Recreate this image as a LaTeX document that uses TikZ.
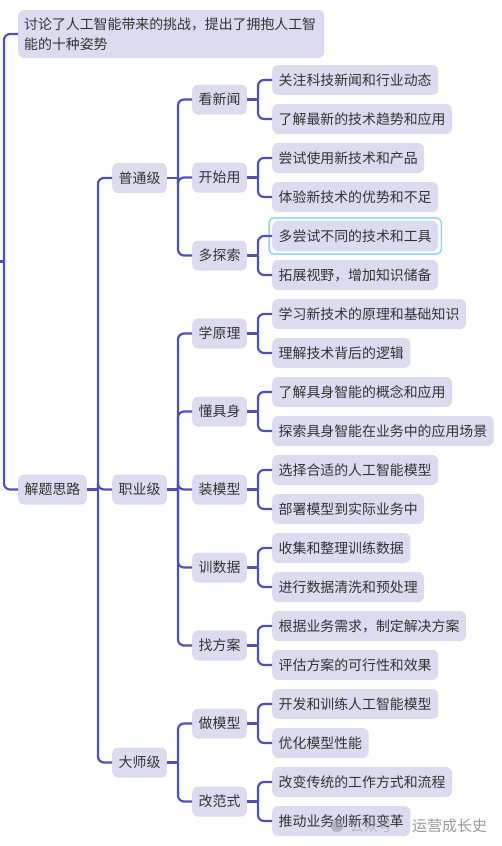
\documentclass[tikz,border=0pt]{standalone}
\usepackage{fontspec}
\newfontfamily\cjk{Noto Sans CJK SC}
\definecolor{edgec}{HTML}{4F4FC4}
\definecolor{nfill}{HTML}{DCDCF0}
\definecolor{ntext}{HTML}{333333}
\definecolor{hlc}{HTML}{8ED6F8}
\definecolor{wmc}{HTML}{9A9A9A}
\newcommand\linkto[3]{\draw[link] (#1.east) -- (#1.east -| #3);\draw[link] (#1.east -| #3) |- (#2.west);}
\begin{document}
\begin{tikzpicture}[x=1pt,y=-1pt,
  box/.style={fill=nfill, rounded corners=6pt, anchor=west, inner xsep=6.5pt, inner ysep=0pt,
    minimum height=30pt, text=ntext, font=\cjk\fontsize{13.9pt}{20pt}\selectfont},
  link/.style={draw=edgec, line width=2.2pt, rounded corners=6pt}]
\useasboundingbox (0,0) rectangle (502,846);
% bus coordinates
\coordinate (bus0) at (4,0);
\coordinate (bus1) at (98,0);
\coordinate (bus2) at (178,0);
\coordinate (bus3) at (258,0);
\coordinate (root) at (-2,261.5);
% level 1
\node[box, text width=294pt, align=left, minimum height=48pt, inner xsep=6pt] (top) at (18,34) {讨论了人工智能带来的挑战，提出了拥抱人工智\\能的十种姿势};
\node[box] (jt) at (18,489.5) {解题思路};
% level 2
\node[box] (pt) at (112,178) {普通级};
\node[box] (zy) at (112,489.5) {职业级};
\node[box] (ds) at (112,762.5) {大师级};
% level 3
\node[box] (m1) at (192,99.5) {看新闻};
\node[box] (m2) at (192,177.5) {开始用};
\node[box] (m3) at (192,255.5) {多探索};
\node[box] (m4) at (192,333.5) {学原理};
\node[box] (m5) at (192,411.5) {懂具身};
\node[box] (m6) at (192,489.5) {装模型};
\node[box] (m7) at (192,567.5) {训数据};
\node[box] (m8) at (192,645.5) {找方案};
\node[box] (m9) at (192,723.5) {做模型};
\node[box] (m10) at (192,801.5) {改范式};
% leaves
\node[box] (l1) at (272,80) {关注科技新闻和行业动态};
\node[box] (l2) at (272,119) {了解最新的技术趋势和应用};
\node[box] (l3) at (272,158) {尝试使用新技术和产品};
\node[box] (l4) at (272,197) {体验新技术的优势和不足};
\node[box] (l5) at (272,236) {多尝试不同的技术和工具};
\node[box] (l6) at (272,275) {拓展视野，增加知识储备};
\node[box] (l7) at (272,314) {学习新技术的原理和基础知识};
\node[box] (l8) at (272,353) {理解技术背后的逻辑};
\node[box] (l9) at (272,392) {了解具身智能的概念和应用};
\node[box] (l10) at (272,431) {探索具身智能在业务中的应用场景};
\node[box] (l11) at (272,470) {选择合适的人工智能模型};
\node[box] (l12) at (272,509) {部署模型到实际业务中};
\node[box] (l13) at (272,548) {收集和整理训练数据};
\node[box] (l14) at (272,587) {进行数据清洗和预处理};
\node[box] (l15) at (272,626) {根据业务需求，制定解决方案};
\node[box] (l16) at (272,665) {评估方案的可行性和效果};
\node[box] (l17) at (272,704) {开发和训练人工智能模型};
\node[box] (l18) at (272,743) {优化模型性能};
\node[box] (l19) at (272,782) {改变传统的工作方式和流程};
\node[box] (l20) at (272,821) {推动业务创新和变革};
% highlight frame
\draw[hlc, line width=1.5pt, rounded corners=5pt] ([shift={(-3,-3)}]l5.north west) rectangle ([shift={(3,3)}]l5.south east);
% connectors
\draw[link] (root) -- (root -| bus0);
\draw[link] (root -| bus0) |- (top.west);
\draw[link] (root -| bus0) |- (jt.west);
\linkto{jt}{pt}{bus1}
\linkto{jt}{zy}{bus1}
\linkto{jt}{ds}{bus1}
\linkto{pt}{m1}{bus2}
\linkto{pt}{m2}{bus2}
\linkto{pt}{m3}{bus2}
\linkto{zy}{m4}{bus2}
\linkto{zy}{m5}{bus2}
\linkto{zy}{m6}{bus2}
\linkto{zy}{m7}{bus2}
\linkto{zy}{m8}{bus2}
\linkto{ds}{m9}{bus2}
\linkto{ds}{m10}{bus2}
\linkto{m1}{l1}{bus3}
\linkto{m1}{l2}{bus3}
\linkto{m2}{l3}{bus3}
\linkto{m2}{l4}{bus3}
\linkto{m3}{l5}{bus3}
\linkto{m3}{l6}{bus3}
\linkto{m4}{l7}{bus3}
\linkto{m4}{l8}{bus3}
\linkto{m5}{l9}{bus3}
\linkto{m5}{l10}{bus3}
\linkto{m6}{l11}{bus3}
\linkto{m6}{l12}{bus3}
\linkto{m7}{l13}{bus3}
\linkto{m7}{l14}{bus3}
\linkto{m8}{l15}{bus3}
\linkto{m8}{l16}{bus3}
\linkto{m9}{l17}{bus3}
\linkto{m9}{l18}{bus3}
\linkto{m10}{l19}{bus3}
\linkto{m10}{l20}{bus3}
% watermark
\fill[wmc, opacity=0.6] (337,826) circle (6pt);
\node[anchor=west, text=wmc, opacity=0.6, font=\cjk\fontsize{14pt}{16pt}\selectfont, inner sep=0pt] (wm1) at (350,826) {公众号};
\node[anchor=west, text=wmc, font=\cjk\fontsize{15pt}{17pt}\selectfont, inner sep=0pt] (wm2) at (412,826) {运营成长史};
\end{tikzpicture}
\end{document}
